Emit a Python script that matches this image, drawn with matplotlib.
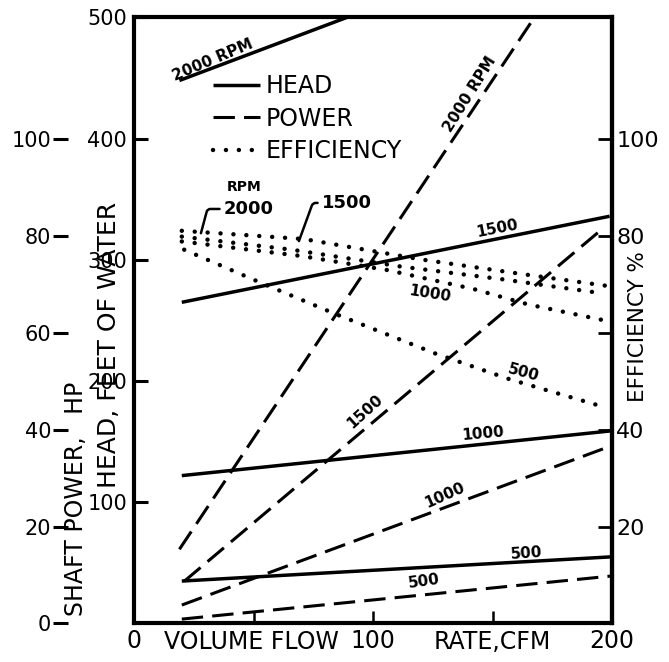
import matplotlib
matplotlib.use("Agg")
import matplotlib.pyplot as plt
from matplotlib.lines import Line2D

plt.rcParams['font.family'] = ['DejaVu Sans']

# head curves, feet of water vs flow (CFM)
flow_head_2000 = [19, 89]
head_2000 = [448, 500]
flow_head_1500 = [20, 199]
head_1500 = [265, 336]
flow_head_1000 = [20, 200]
head_1000 = [122, 159]
flow_head_500 = [20, 200]
head_500 = [35, 55]

# shaft power, HP
flow_pow_2000 = [19, 167.5]
power_2000 = [15.3, 125]
flow_pow_1500 = [21, 195]
power_1500 = [8.7, 81]
flow_pow_1000 = [20, 200]
power_1000 = [3.8, 36.7]
flow_pow_500 = [20, 200]
power_500 = [0.9, 9.8]

# efficiency, %
flow_eff_2000 = [20, 71, 120, 162, 197]
eff_2000 = [81.0, 79.3, 75.1, 72.1, 69.7]
flow_eff_1500 = [20, 66, 112, 154, 196]
eff_1500 = [79.8, 77.1, 73.6, 71.0, 68.1]
flow_eff_1000 = [20, 70, 106, 142, 165, 198]
eff_1000 = [78.8, 75.8, 72.9, 69.0, 65.8, 62.4]
flow_eff_500 = [21, 52, 84, 126, 157, 197]
eff_500 = [77.1, 70.5, 63.9, 55.7, 50.4, 44.6]

head_ticks = [100, 200, 300, 400, 500]
power_ticks = [0, 20, 40, 60, 80, 100]
eff_ticks = [20, 40, 60, 80, 100]
eff_tick_labels = ['20', '40', '', '80', '100']
flow_ticks = [0, 50, 100, 150, 200]
flow_tick_labels = ['0', '', '100', '', '200']

solid = dict(color='black', lw=2.5, solid_capstyle='butt')
dashed = dict(color='black', lw=2.2, linestyle=(0, (7, 3)), dash_capstyle='butt')
dotted = dict(color='black', lw=3.2, linestyle=(0, (0.01, 2.9)), dash_capstyle='round')

fig = plt.figure(figsize=(6.69, 6.62), dpi=100)
ax = fig.add_axes([0.2003, 0.0582, 0.7145, 0.9154])
ax_pow = ax.twinx()
ax_eff = ax.twinx()

ax.set_xlim(0, 200)
ax.set_ylim(0, 500)
ax_pow.set_ylim(0, 125)
ax_eff.set_ylim(0, 125)

ax.plot(flow_head_2000, head_2000, **solid)
ax.plot(flow_head_1500, head_1500, **solid)
ax.plot(flow_head_1000, head_1000, **solid)
ax.plot(flow_head_500, head_500, **solid)

ax_pow.plot(flow_pow_2000, power_2000, **dashed)
ax_pow.plot(flow_pow_1500, power_1500, **dashed)
ax_pow.plot(flow_pow_1000, power_1000, **dashed)
ax_pow.plot(flow_pow_500, power_500, **dashed)

ax_eff.plot(flow_eff_2000, eff_2000, **dotted)
ax_eff.plot(flow_eff_1500, eff_1500, **dotted)
ax_eff.plot(flow_eff_1000, eff_1000, **dotted)
ax_eff.plot(flow_eff_500, eff_500, **dotted)

# frame and ticks
for s in ax.spines.values():
    s.set_linewidth(3)
ax.set_yticks(head_ticks)
ax.set_yticklabels([str(t) for t in head_ticks])
ax.set_xticks(flow_ticks)
ax.set_xticklabels(flow_tick_labels)
ax.tick_params(axis='y', direction='in', length=10, width=2.2, labelsize=15, pad=5)
ax.tick_params(axis='x', direction='in', length=9, width=1.8, labelsize=17, pad=4)

for s in ['top', 'right', 'bottom']:
    ax_pow.spines[s].set_visible(False)
ax_pow.spines['left'].set_position(('axes', -0.138))
ax_pow.spines['left'].set_visible(False)
ax_pow.yaxis.set_ticks_position('left')
ax_pow.set_yticks(power_ticks)
ax_pow.tick_params(axis='y', direction='out', length=11, width=2.2, labelsize=15, pad=1)

for s in ['top', 'left', 'bottom']:
    ax_eff.spines[s].set_visible(False)
ax_eff.spines['right'].set_linewidth(3)
ax_eff.set_yticks(eff_ticks)
ax_eff.set_yticklabels(eff_tick_labels)
ax_eff.tick_params(axis='y', direction='in', length=10, width=2, labelsize=16, pad=3)

# axis titles
ax.text(-0.121, 0.205, 'SHAFT POWER,   HP', transform=ax.transAxes, rotation=90,
        ha='center', va='center', fontsize=17)
ax.text(-0.052, 0.46, 'HEAD, FEET OF WATER', transform=ax.transAxes, rotation=90,
        ha='center', va='center', fontsize=18)
ax.text(1.055, 0.49, 'EFFICIENCY %', transform=ax.transAxes, rotation=90,
        ha='center', va='center', fontsize=15.5)
ax.text(49, -0.03, 'VOLUME FLOW', transform=ax.get_xaxis_transform(),
        ha='center', va='center', fontsize=17)
ax.text(150, -0.03, 'RATE,CFM', transform=ax.get_xaxis_transform(),
        ha='center', va='center', fontsize=17)

# legend
handles = [Line2D([], [], **solid), Line2D([], [], **dashed), Line2D([], [], **dotted)]
ax.legend(handles, ['HEAD', 'POWER', 'EFFICIENCY'], loc='upper left',
          bbox_to_anchor=(0.165, 0.906), frameon=False, fontsize=17,
          handlelength=2.0, handletextpad=0.25, labelspacing=0.35,
          borderpad=0, borderaxespad=0)

# curve labels (flow, head-scale position)
lab = dict(ha='center', va='center', fontsize=11, fontweight='bold', rotation_mode='anchor')
ax.text(33, 465, '2000 RPM', rotation=23, **lab)
ax.text(140.7, 437, '2000 RPM', rotation=58, **lab)
ax.text(152, 326, '1500', rotation=11, **lab)
ax.text(124, 272, '1000', rotation=-9, **lab)
ax.text(163, 207, '500', rotation=-15, **lab)
ax.text(96.5, 175, '1500', rotation=42, **lab)
ax.text(146, 157, '1000', rotation=5, **lab)
ax.text(130, 106, '1000', rotation=24, **lab)
ax.text(164, 58, '500', rotation=4, **lab)
ax.text(121.5, 34.5, '500', rotation=8, **lab)

ax.text(46, 360, 'RPM', ha='center', va='center', fontsize=10, fontweight='bold')
ax.annotate('2000', xy=(28, 322), xytext=(48, 342), ha='center', va='center',
            fontsize=13, fontweight='bold',
            arrowprops=dict(arrowstyle='-', lw=1.8, shrinkA=1, shrinkB=0,
                            connectionstyle='angle,angleA=0,angleB=75,rad=3'))
ax.annotate('1500', xy=(69, 315.5), xytext=(89, 347), ha='center', va='center',
            fontsize=13, fontweight='bold',
            arrowprops=dict(arrowstyle='-', lw=1.8, shrinkA=1, shrinkB=0,
                            connectionstyle='angle,angleA=0,angleB=70,rad=3'))

fig.savefig('out.png', dpi=100, facecolor='white')
